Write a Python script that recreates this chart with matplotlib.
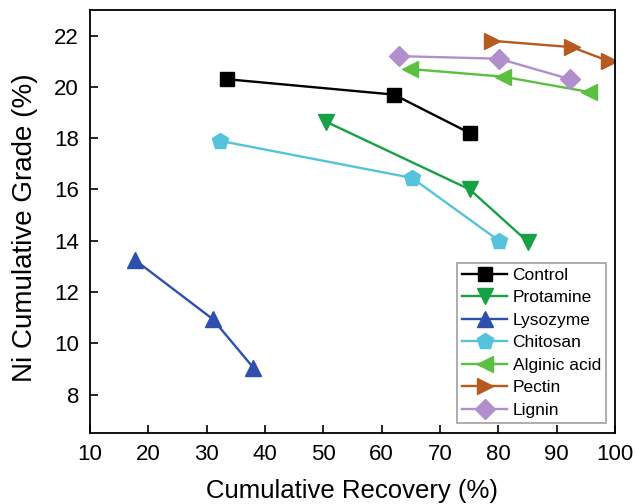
import matplotlib
matplotlib.use("Agg")
import matplotlib.pyplot as plt

plt.rcParams['font.family'] = ['Liberation Sans', 'DejaVu Sans']

# Cumulative recovery (%) and Ni cumulative grade (%) per reagent
control_x = [33.5, 62.1, 75.1]
control_y = [20.3, 19.7, 18.2]
protamine_x = [50.4, 75.1, 85.1]
protamine_y = [18.65, 16.0, 13.95]
lysozyme_x = [17.7, 31.0, 38.0]
lysozyme_y = [13.25, 10.95, 9.05]
chitosan_x = [32.2, 65.2, 80.1]
chitosan_y = [17.9, 16.45, 14.0]
alginic_x = [64.8, 80.8, 95.6]
alginic_y = [20.7, 20.4, 19.8]
pectin_x = [78.9, 92.6, 99.0]
pectin_y = [21.8, 21.55, 21.0]
lignin_x = [62.9, 80.1, 92.3]
lignin_y = [21.2, 21.1, 20.3]

series = [
    ("Control", control_x, control_y, "black", "s", 10),
    ("Protamine", protamine_x, protamine_y, "#17a045", "v", 12),
    ("Lysozyme", lysozyme_x, lysozyme_y, "#2f4fae", "^", 12),
    ("Chitosan", chitosan_x, chitosan_y, "#55c3db", "p", 12),
    ("Alginic acid", alginic_x, alginic_y, "#5bbf42", "<", 12),
    ("Pectin", pectin_x, pectin_y, "#b65a20", ">", 12),
    ("Lignin", lignin_x, lignin_y, "#b08fcc", "D", 10),
]

fig = plt.figure(figsize=(6.36, 5.04), dpi=100)
ax = fig.add_axes([90 / 636, 1 - 433 / 504, 525 / 636, 423 / 504])

for name, xs, ys, color, marker, ms in series:
    ax.plot(xs, ys, color=color, marker=marker, markersize=ms, linewidth=1.7,
            label=name)

ax.set_xlim(10, 100)
ax.set_ylim(6.5, 23)
ax.set_xticks(range(10, 101, 10))
ax.set_yticks(range(8, 23, 2))
ax.tick_params(direction="in", labelsize=16, length=6, width=1.2, pad=8)
for sp in ax.spines.values():
    sp.set_linewidth(1.3)

ax.set_xlabel("Cumulative Recovery (%)", fontsize=18.5, labelpad=10)
ax.set_ylabel("Ni Cumulative Grade (%)", fontsize=20)
ax.yaxis.set_label_coords(-0.099, 0.485)

leg = ax.legend(loc="lower right", bbox_to_anchor=(0.983, 0.024), fontsize=12.5,
                handlelength=2.6, handletextpad=0.3, labelspacing=0.42,
                borderpad=0.3, frameon=True, fancybox=False, borderaxespad=0)
leg.get_frame().set_edgecolor("#888888")
leg.get_frame().set_linewidth(1.2)

fig.savefig("out.png", dpi=100)
